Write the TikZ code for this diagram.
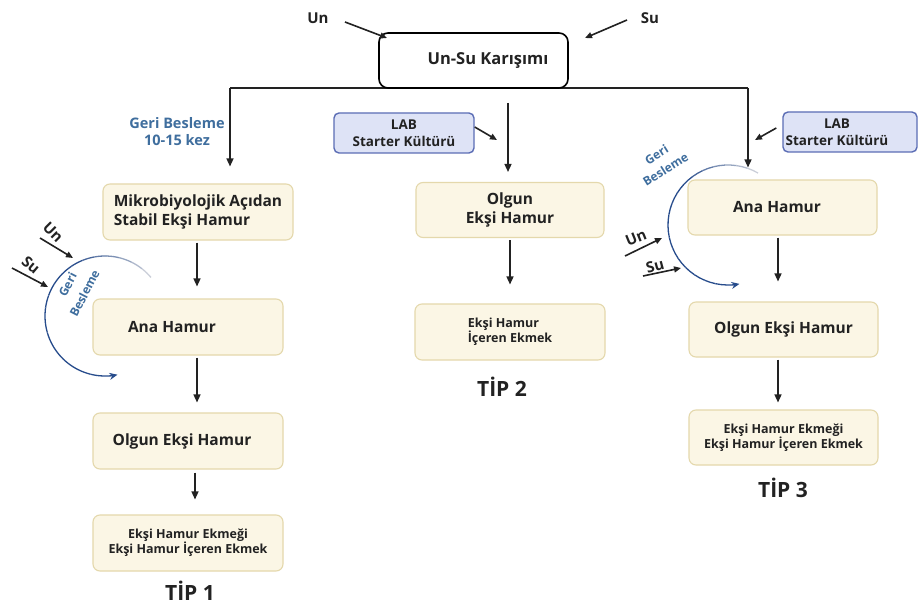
\documentclass[tikz,border=0pt]{standalone}
\usepackage{fontspec}
\setmainfont{Open Sans}
\usetikzlibrary{arrows.meta}
\definecolor{ink}{HTML}{222222}
\definecolor{cream}{HTML}{FBF6E5}
\definecolor{creamedge}{HTML}{E4D8AC}
\definecolor{labfill}{HTML}{DEE3F6}
\definecolor{labedge}{HTML}{5B6DB5}
\definecolor{fbtxt}{HTML}{3F6E9E}
\definecolor{fbarc}{HTML}{274C8C}
\definecolor{fbfade}{HTML}{CBCFD9}
\begin{document}
\begin{tikzpicture}[x=1pt,y=-1pt,
  box/.style={draw=creamedge, fill=cream, line width=1.1pt, rounded corners=7pt,
    minimum width=190pt, minimum height=56pt, inner sep=0pt, text=ink,
    font=\bfseries\fontsize{15.5}{18.5}\selectfont},
  smallbox/.style={box, font=\bfseries\fontsize{12.5}{15}\selectfont},
  labbox/.style={draw=labedge, fill=labfill, line width=1.4pt, rounded corners=5pt,
    minimum height=40pt, inner sep=0pt, text=ink, align=center,
    font=\bfseries\fontsize{13.5}{17}\selectfont},
  topbox/.style={draw=black, fill=white, line width=1.6pt, rounded corners=9pt,
    minimum width=189pt, minimum height=55pt, inner sep=0pt, text=ink,
    font=\bfseries\fontsize{16.5}{20}\selectfont},
  lbl/.style={inner sep=0pt, text=ink, font=\bfseries\fontsize{15}{17}\selectfont},
  fbtext/.style={inner sep=0pt, text=fbtxt, align=center, font=\bfseries\fontsize{12}{17}\selectfont},
  tiplbl/.style={inner sep=0pt, text=ink, font=\bfseries\fontsize{21}{24}\selectfont},
  line/.style={draw=ink, line width=1.5pt},
  arr/.style={draw=ink, line width=1.4pt, -{Triangle[length=8pt,width=7pt]}},
  sarr/.style={draw=ink, line width=1.6pt, -{Triangle[length=7pt,width=6pt]}},
  fbseg/.style={line width=1.3pt}]
\useasboundingbox (0,0) rectangle (918,604);
\fill[white] (0,0) rectangle (918,604);

% ---- flour-water mix and distribution line
\coordinate (jl) at (230,88);
\coordinate (jr) at (748,88);
\coordinate (mtop) at (508,103);
\draw[line] (jl) -- (jr);
\node[topbox] (mix) at (473.5,60.5) {\hspace*{29pt}Un-Su Karışımı};

\node[lbl] (un0) at (318,18) {Un};
\node[lbl] (su0) at (650,18) {Su};
\coordinate (un0s) at (345,22);
\coordinate (un0e) at (387,38);
\coordinate (su0s) at (627,20);
\coordinate (su0e) at (585,38);
\draw[sarr] (un0s) -- (un0e);
\draw[sarr] (su0s) -- (su0e);

% ---- type 1
\node[box, align=left] (m1) at (198,212) {Mikrobiyolojik Açıdan\\Stabil Ekşi Hamur};
\node[box] (a1) at (188,327) {Ana Hamur\hspace*{32pt}};
\node[box] (o1) at (188,441) {Olgun Ekşi Hamur\hspace*{12pt}};
\node[smallbox, align=center] (e1) at (188,543) {Ekşi Hamur Ekmeği\\Ekşi Hamur İçeren Ekmek};
\node[tiplbl] (tip1) at (190,591) {TİP 1};
\node[fbtext, font=\bfseries\fontsize{14.5}{17}\selectfont] (fb1) at (177,132) {Geri Besleme\\10-15 kez};

\coordinate (cl) at (197,0);
\coordinate (cl2) at (195,0);
\draw[arr] (jl) -- ([yshift=17pt]jl |- m1.north);
\draw[arr] ([yshift=-2pt]m1.south -| cl) -- ([yshift=12pt]a1.north -| cl);
\draw[arr] ([yshift=-2pt]a1.south -| cl) -- ([yshift=10pt]o1.north -| cl);
\draw[arr] ([yshift=-3pt]o1.south -| cl2) -- ([yshift=15pt]e1.north -| cl2);

% feedback loop around the mother dough
\coordinate (fbL) at (105,316);
\foreach \segno [evaluate=\segno as \angA using {-40-\segno*12},
             evaluate=\segno as \angB using {-40-(\segno+1)*12},
             evaluate=\segno as \mixpc using {int(min(100,\segno*16))}] in {0,...,18}
  \draw[fbseg, fbarc!\mixpc!fbfade] (fbL) ++(\angA:60) arc[start angle=\angA, end angle=\angB, radius=60];
\draw[fbseg, fbarc, -{Stealth[length=8pt,width=7pt]}] (fbL) ++(-268:60) arc[start angle=-268, end angle=-282, radius=60];
\node[fbtext, rotate=63, font=\bfseries\fontsize{12}{19}\selectfont] (gb1) at (76,289) {Geri\\Besleme};

\node[lbl, rotate=-45] (un1) at (53,232) {Un};
\node[lbl, rotate=-40] (su1) at (31,265) {Su};
\coordinate (un1s) at (40,238);
\coordinate (un1e) at (73,258);
\coordinate (su1s) at (12,268);
\coordinate (su1e) at (48,287);
\draw[sarr] (un1s) -- (un1e);
\draw[sarr] (su1s) -- (su1e);

% ---- type 2
\node[labbox, minimum width=140pt] (lab2) at (404,133) {LAB\\Starter Kültürü};
\node[box, align=center, minimum width=188pt, minimum height=55pt] (o2) at (510,210) {Olgun\\Ekşi Hamur};
\node[smallbox, align=left] (e2) at (510,332) {Ekşi Hamur\\İçeren Ekmek};
\node[tiplbl] (tip2) at (502,387) {TİP 2};

\coordinate (cm) at (510,0);
\coordinate (t2) at (497,140);
\draw[arr] (mtop) -- ([yshift=10pt]mtop |- o2.north);
\draw[sarr] ([yshift=6pt]lab2.east) -- (t2);
\draw[arr] ([yshift=-2pt]o2.south -| cm) -- ([yshift=19pt]e2.north -| cm);

% ---- type 3
\node[labbox, minimum width=134pt] (lab3) at (850,132) {LAB\hspace*{26pt}\\Starter Kültürü\hspace*{26pt}};
\node[box, minimum width=189pt, minimum height=55pt] (a3) at (782.5,207.5) {Ana Hamur\hspace*{11pt}};
\node[box, minimum width=189pt, minimum height=55pt] (o3) at (783.5,329.5) {Olgun Ekşi Hamur};
\node[smallbox, align=center, minimum width=189pt, minimum height=55pt] (e3) at (783.5,437.5) {Ekşi Hamur Ekmeği\\Ekşi Hamur İçeren Ekmek};
\node[tiplbl] (tip3) at (783,488) {TİP 3};

\coordinate (cr) at (778,0);
\coordinate (t3) at (755,140);
\draw[arr] (jr) -- ([yshift=12pt]jr |- a3.north);
\draw[sarr] ([xshift=-6pt,yshift=4pt]lab3.west) -- (t3);
\draw[arr] ([yshift=-2pt]a3.south -| cr) -- ([yshift=20pt]o3.north -| cr);
\draw[arr] ([yshift=-2pt]o3.south -| cr) -- ([yshift=7pt]e3.north -| cr);

% feedback loop around the mother dough
\coordinate (fbR) at (728,225);
\foreach \segno [evaluate=\segno as \angA using {-60-\segno*11},
             evaluate=\segno as \angB using {-60-(\segno+1)*11},
             evaluate=\segno as \mixpc using {int(min(100,\segno*16))}] in {0,...,18}
  \draw[fbseg, fbarc!\mixpc!fbfade] (fbR) ++(\angA:60) arc[start angle=\angA, end angle=\angB, radius=60];
\draw[fbseg, fbarc, -{Stealth[length=8pt,width=7pt]}] (fbR) ++(-269:60) arc[start angle=-269, end angle=-281, radius=60];
\node[fbtext, rotate=32] (gb3) at (661,162) {Geri\\Besleme};

\node[lbl, rotate=22] (un3) at (636,238) {Un};
\node[lbl, rotate=15] (su3) at (655,266) {Su};
\coordinate (un3s) at (625,256);
\coordinate (un3e) at (662,238);
\coordinate (su3s) at (643,276);
\coordinate (su3e) at (681,268);
\draw[sarr] (un3s) -- (un3e);
\draw[sarr] (su3s) -- (su3e);
\end{tikzpicture}
\end{document}
